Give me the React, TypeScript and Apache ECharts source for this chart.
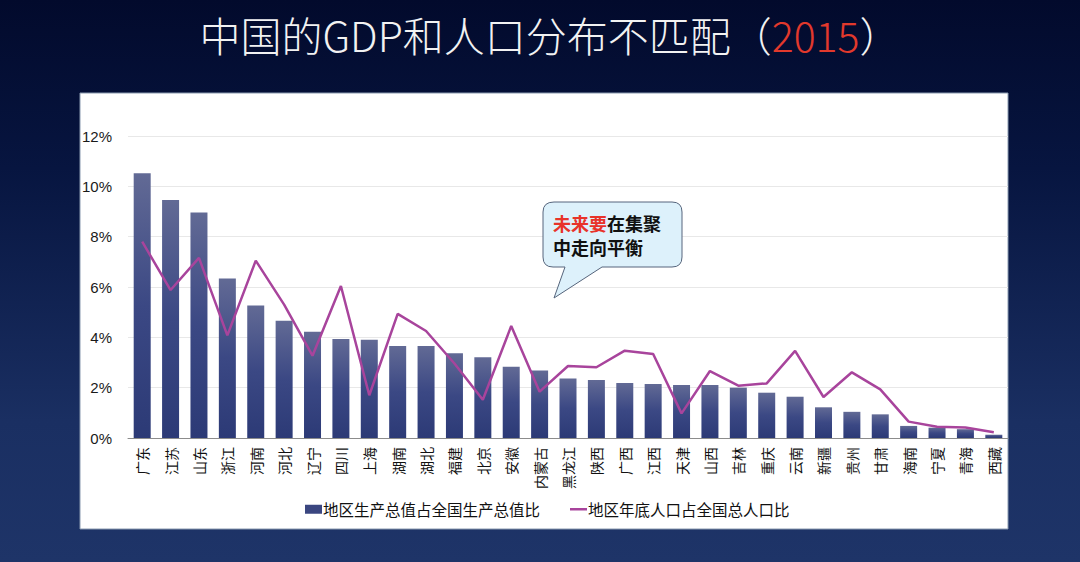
import React, { useEffect, useRef } from "react";
import * as echarts from "echarts";

const provinces = ["广东", "江苏", "山东", "浙江", "河南", "河北", "辽宁", "四川", "上海", "湖南", "湖北", "福建", "北京", "安徽", "内蒙古", "黑龙江", "陕西", "广西", "江西", "天津", "山西", "吉林", "重庆", "云南", "新疆", "贵州", "甘肃", "海南", "宁夏", "青海", "西藏"];
const gdpShare = [10.52, 9.46, 8.96, 6.34, 5.26, 4.66, 4.22, 3.93, 3.9, 3.66, 3.66, 3.37, 3.21, 2.83, 2.68, 2.36, 2.3, 2.19, 2.15, 2.11, 2.11, 2.0, 1.8, 1.64, 1.22, 1.04, 0.94, 0.48, 0.41, 0.35, 0.13];
const popShare = [7.8, 5.88, 7.16, 4.08, 7.05, 5.3, 3.27, 6.04, 1.7, 4.93, 4.25, 2.96, 1.52, 4.45, 1.84, 2.86, 2.81, 3.47, 3.34, 0.98, 2.66, 2.08, 2.17, 3.46, 1.63, 2.61, 1.93, 0.65, 0.45, 0.42, 0.23];
const yTicks = { min: 0, max: 12, interval: 2 };
const seriesNames = ["地区生产总值占全国生产总值比", "地区年底人口占全国总人口比"];

const bubblePath =
  "M554,202 H672 Q682,202 682,212 V257 Q682,267 672,267 H602 L554,298 L565,267 H553 Q543,267 543,257 V212 Q543,202 554,202 Z";

let registered = false;
function ensureShape() {
  if (registered) return;
  echarts.graphic.registerShape("bubble", echarts.graphic.extendPath(bubblePath, {}));
  registered = true;
}

export default function App() {
  const ref = useRef<HTMLDivElement>(null);
  useEffect(() => {
    ensureShape();
    const chart = echarts.init(ref.current!, null, { renderer: "svg" });
    const cjk = "'Noto Sans CJK SC', 'Noto Sans', sans-serif";
    chart.setOption({
      animation: false,
      backgroundColor: new echarts.graphic.LinearGradient(0, 0, 0, 1, [
        { offset: 0, color: "#020a2c" },
        { offset: 0.3, color: "#071540" },
        { offset: 0.75, color: "#1a2f62" },
        { offset: 1, color: "#1e3468" },
      ]),
      title: {
        text: "中国的GDP和人口分布不匹配（{r|2015}）",
        left: 545,
        textAlign: "center",
        top: 8,
        textStyle: {
          color: "#f2f2f2",
          fontSize: 41,
          fontWeight: 300,
          fontFamily: cjk,
          rich: {
            r: { color: "#e2392c", fontSize: 41, fontWeight: 300, fontFamily: cjk },
          },
        },
      },
      graphic: [
        {
          type: "rect",
          z: -10,
          silent: true,
          shape: { x: 80, y: 93, width: 928, height: 436 },
          style: { fill: "#ffffff", stroke: "#8a9ab0", lineWidth: 1 },
        },
        {
          type: "bubble",
          x: 0,
          y: 0,
          z: 100,
          style: { fill: "#ddf1fb", stroke: "#56657c", lineWidth: 1 },
        },
        {
          type: "text",
          x: 553,
          y: 211,
          z: 101,
          style: {
            text: "{r|未来要}{b|在集聚}\n{b|中走向平衡}",
            rich: {
              r: { fill: "#e8332a", fontSize: 18, fontWeight: "bold", fontFamily: cjk, lineHeight: 24 },
              b: { fill: "#111111", fontSize: 18, fontWeight: "bold", fontFamily: cjk, lineHeight: 24 },
            },
          },
        },
      ],
      legend: {
        bottom: 40,
        left: 300,
        itemWidth: 17,
        itemHeight: 9,
        itemGap: 30,
        textStyle: { color: "#111", fontSize: 15.5, fontFamily: cjk, padding: [0, 0, 0, -4] },
        data: [
          { name: seriesNames[0], icon: "rect", itemStyle: { color: "#3a4680" } },
          { name: seriesNames[1], icon: "path://M0,0 H34 V5 H0 Z", itemStyle: { color: "#a8449c" } },
        ],
      },
      grid: { left: 128, right: 72, top: 136, bottom: 124 },
      xAxis: {
        type: "category",
        data: provinces,
        axisTick: { show: false },
        axisLine: { lineStyle: { color: "#8c8c8c", width: 1 } },
        axisLabel: {
          rotate: 90,
          interval: 0,
          margin: 9,
          color: "#111",
          fontSize: 14,
          fontFamily: cjk,
        },
      },
      yAxis: {
        type: "value",
        min: yTicks.min,
        max: yTicks.max,
        interval: yTicks.interval,
        axisLine: { show: false },
        axisTick: { show: false },
        splitLine: { lineStyle: { color: "#e8e8e8", width: 1 } },
        axisLabel: {
          formatter: "{value}%",
          margin: 16,
          color: "#1a1a1a",
          fontSize: 15,
          fontFamily: "'Liberation Sans', 'Noto Sans', sans-serif",
        },
      },
      series: [
        {
          name: seriesNames[0],
          type: "bar",
          data: gdpShare,
          barWidth: 17,
          itemStyle: {
            color: new echarts.graphic.LinearGradient(0, 0, 0, 1, [
              { offset: 0, color: "#626a95" },
              { offset: 0.5, color: "#3b4884" },
              { offset: 1, color: "#2c3a76" },
            ]),
          },
        },
        {
          name: seriesNames[1],
          type: "line",
          data: popShare,
          symbol: "none",
          lineStyle: { color: "#a8449c", width: 2.5 },
          itemStyle: { color: "#a8449c" },
          z: 5,
        },
      ],
    });
    return () => chart.dispose();
  }, []);
  return (
    <div
      ref={ref}
      style={{ position: "fixed", left: 0, top: 0, width: 1080, height: 562 }}
    />
  );
}
